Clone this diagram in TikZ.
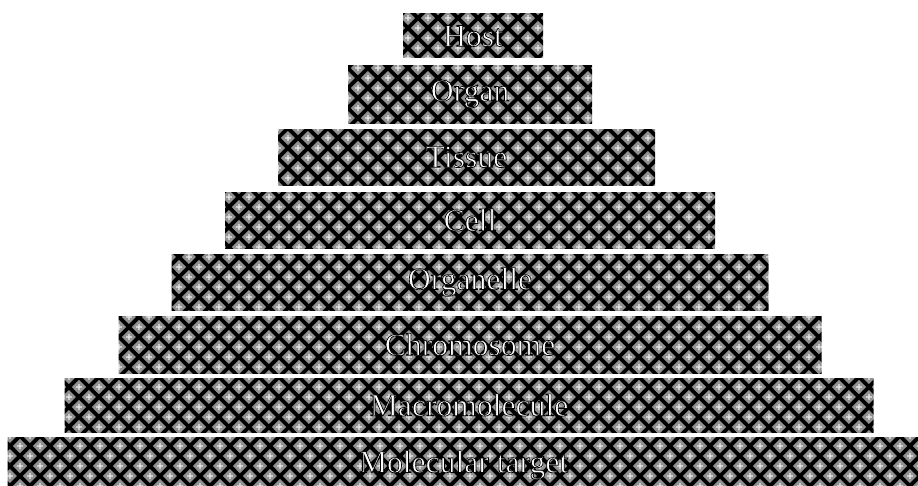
\documentclass[tikz,border=0pt]{standalone}
\usepackage{fontspec}
\setmainfont{Liberation Serif}
\newfontfamily\outlinefont[FakeBold=2.2]{Liberation Serif}
\usetikzlibrary{positioning, patterns.meta}
\definecolor{latgray}{RGB}{145,145,145}
% white letters, black stroke
\newcommand\outlined[1]{{\outlinefont\special{pdf:literal direct 0 G}#1}}

% diamond lattice fill of the bars
\tikzdeclarepattern{
  name=lattice, type=colored,
  bottom left={(0pt,0pt)}, top right={(17pt,17pt)},
  tile size={(17pt,17pt)},
  code={
    \fill[black] (0pt,0pt) rectangle (17pt,17pt);
    \foreach \cx/\cy in {0/0, 17/0, 0/17, 17/17, 8.5/8.5} {
      \fill[latgray] (\cx pt,\cy pt) ++(-6pt,0pt) -- ++(6pt,6pt) -- ++(6pt,-6pt) -- ++(-6pt,-6pt) -- cycle;
      \fill[white!85!latgray] (\cx pt,\cy pt) ++(-2.5pt,-0.5pt) rectangle ++(5pt,1pt);
      \fill[white!85!latgray] (\cx pt,\cy pt) ++(-0.5pt,-2.5pt) rectangle ++(1pt,5pt);
    }
  }
}

\begin{document}
\begin{tikzpicture}[
  bar/.style 2 args = {
    pattern=lattice, minimum width=#1, minimum height=#2,
    inner sep=0pt, outer sep=0pt, text=white,
    font=\fontsize{27}{27}\selectfont
  }
]
\clip (0,0) rectangle (27.54,-14.58);

\node[bar={4.2cm}{1.32cm}] (host) at (14.19,-1.08) {\outlined{Host}};
\node[bar={7.32cm}{1.74cm}, below=0.21cm of host, xshift=-0.09cm] (organ) {\outlined{Organ}};
\node[bar={11.31cm}{1.68cm}, below=0.18cm of organ, xshift=-0.105cm] (tissue) {\outlined{Tissue}};
\node[bar={14.7cm}{1.68cm}, below=0.21cm of tissue, xshift=0.105cm] (cell) {\outlined{Cell}};
\node[bar={17.91cm}{1.68cm}, below=0.18cm of cell] (organelle) {\outlined{Organelle}};
\node[bar={21.09cm}{1.71cm}, below=0.18cm of organelle] (chromosome) {\outlined{Chromosome}};
\node[bar={24.27cm}{1.62cm}, below=0.15cm of chromosome, xshift=-0.03cm] (macro) {\outlined{Macromolecule}};
\node[bar={27.36cm}{1.68cm}, below=0.15cm of macro, xshift=-0.165cm] (target) {\outlined{Molecular target}};

\end{tikzpicture}
\end{document}
